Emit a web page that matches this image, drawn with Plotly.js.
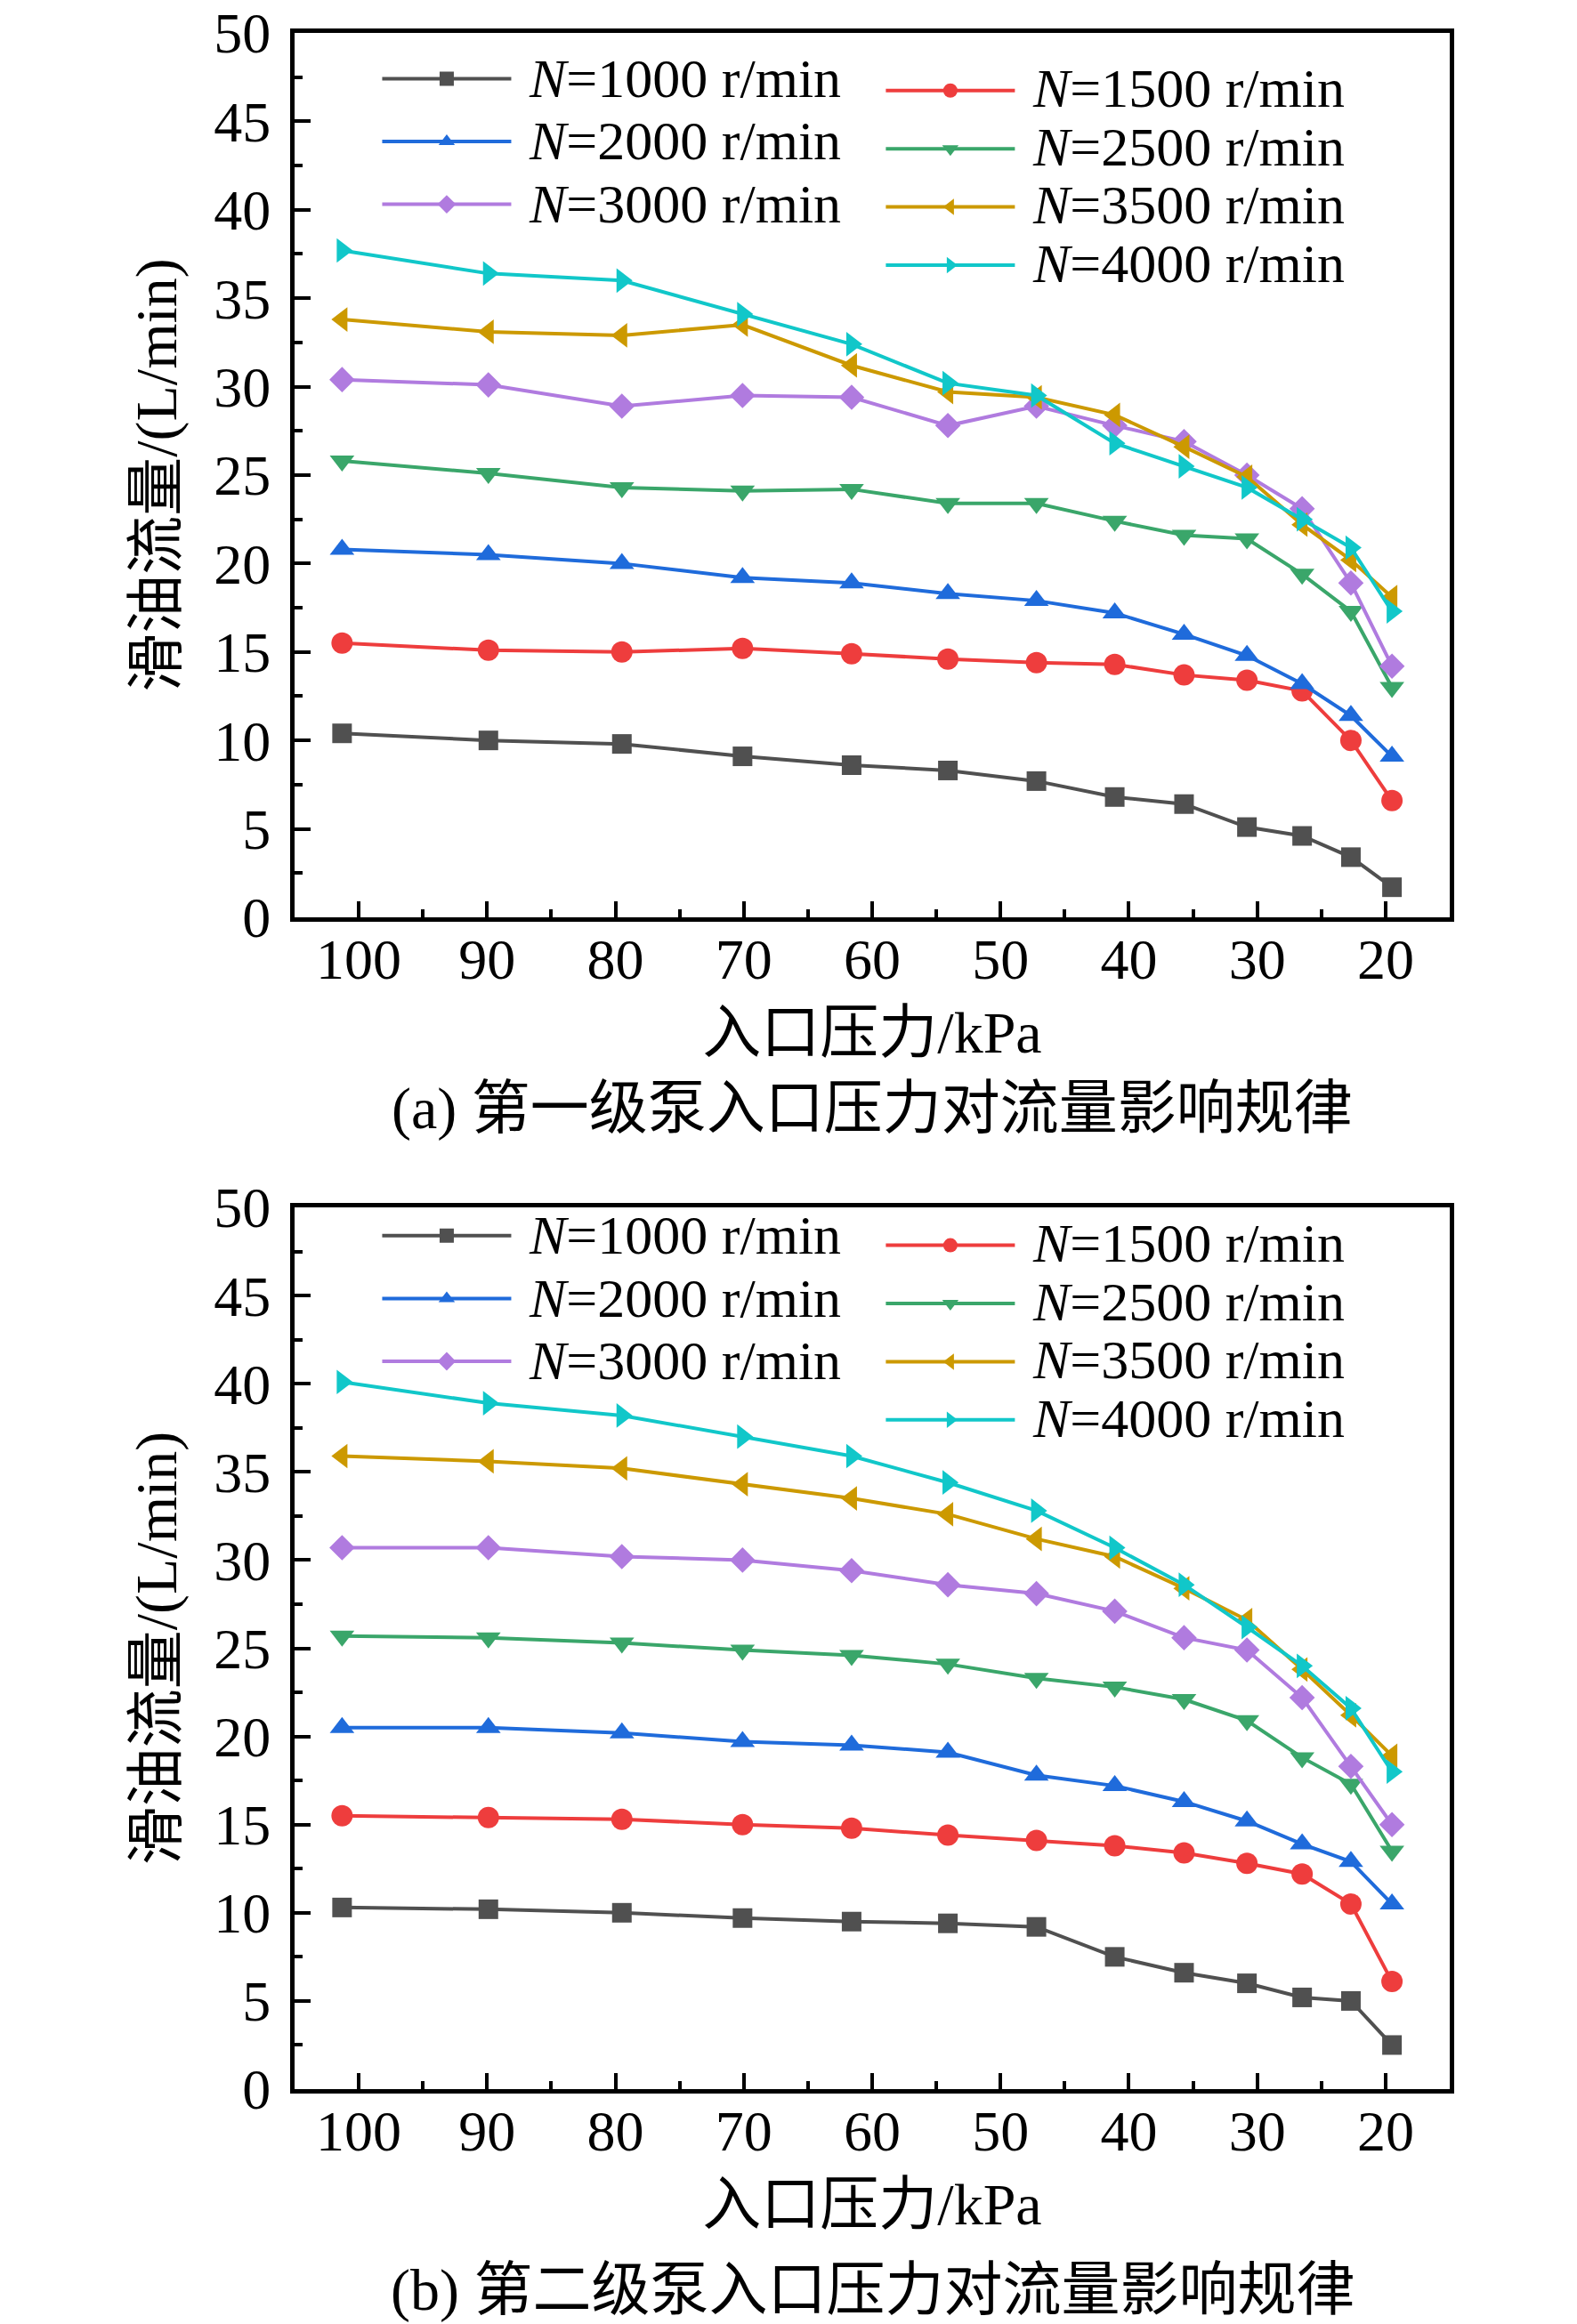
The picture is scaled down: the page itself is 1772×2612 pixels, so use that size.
<!DOCTYPE html>
<html>
<head>
<meta charset="utf-8">
<script src="https://cdn.plot.ly/plotly-3.0.1.min.js"></script>
<style>
  html, body { margin: 0; padding: 0; background: #ffffff; }
  #chart { width: 1772px; height: 2612px; }
</style>
</head>
<body>
<div id="chart"></div>
<script>
// inlet pressure (kPa), same points for both pump stages
const pressure = [101.3, 89.9, 79.5, 70.1, 61.6, 54.1, 47.2, 41.1, 35.7, 30.8, 26.5, 22.7, 19.5];

// speed labels
const speeds = ["1000", "1500", "2000", "2500", "3000", "3500", "4000"];

// (a) first stage pump, oil flow L/min
const stage1N1000 = [10.4, 10.0, 9.8, 9.1, 8.6, 8.3, 7.7, 6.8, 6.4, 5.1, 4.6, 3.4, 1.7];
const stage1N1500 = [15.5, 15.1, 15.0, 15.2, 14.9, 14.6, 14.4, 14.3, 13.7, 13.4, 12.8, 10.0, 6.6];
const stage1N2000 = [20.8, 20.5, 20.0, 19.2, 18.9, 18.3, 17.9, 17.2, 16.0, 14.8, 13.2, 11.4, 9.1];
const stage1N2500 = [25.8, 25.1, 24.3, 24.1, 24.2, 23.4, 23.4, 22.4, 21.6, 21.4, 19.4, 17.3, 13.0];
const stage1N3000 = [30.4, 30.1, 28.9, 29.5, 29.4, 27.8, 28.9, 27.8, 26.9, 25.0, 23.1, 18.9, 14.2];
const stage1N3500 = [33.8, 33.1, 32.9, 33.5, 31.2, 29.7, 29.4, 28.4, 26.6, 24.9, 22.2, 20.2, 18.1];
const stage1N4000 = [37.7, 36.4, 36.0, 34.1, 32.4, 30.2, 29.5, 26.8, 25.5, 24.3, 22.5, 20.9, 17.3];

// (b) second stage pump, oil flow L/min
const stage2N1000 = [10.3, 10.2, 10.0, 9.7, 9.5, 9.4, 9.2, 7.5, 6.6, 6.0, 5.2, 5.0, 2.5];
const stage2N1500 = [15.5, 15.4, 15.3, 15.0, 14.8, 14.4, 14.1, 13.8, 13.4, 12.8, 12.2, 10.5, 6.1];
const stage2N2000 = [20.5, 20.5, 20.2, 19.7, 19.5, 19.1, 17.8, 17.2, 16.3, 15.2, 13.9, 12.9, 10.5];
const stage2N2500 = [25.7, 25.6, 25.3, 24.9, 24.6, 24.1, 23.3, 22.8, 22.1, 20.9, 18.8, 17.3, 13.5];
const stage2N3000 = [30.7, 30.7, 30.2, 30.0, 29.4, 28.6, 28.1, 27.1, 25.6, 24.9, 22.2, 18.3, 15.0];
const stage2N3500 = [35.9, 35.6, 35.2, 34.3, 33.5, 32.6, 31.2, 30.2, 28.4, 26.6, 23.8, 21.2, 18.9];
const stage2N4000 = [40.1, 38.9, 38.2, 37.0, 35.9, 34.4, 32.8, 30.7, 28.6, 26.2, 24.0, 21.6, 18.0];

const stage1 = [stage1N1000, stage1N1500, stage1N2000, stage1N2500, stage1N3000, stage1N3500, stage1N4000];
const stage2 = [stage2N1000, stage2N1500, stage2N2000, stage2N2500, stage2N3000, stage2N3500, stage2N4000];

// look of each speed series
const colors = ["#505050", "#EE3D3D", "#1F6BDB", "#3AA66A", "#B07BDF", "#CC9900", "#11C7C9"];
const symbols = ["square", "circle", "triangle-up", "triangle-down", "diamond", "triangle-left", "triangle-right"];
const sizes = [22, 24, 24, 24, 22, 24, 24];
// which legend column each speed goes in (0 = left, 1 = right)
const legendColumn = [0, 1, 0, 1, 0, 1, 1];

const serif = "Liberation Serif, Times New Roman, Noto Sans CJK SC, serif";

function makeTraces(series, xa, ya, legendLeft, legendRight) {
  const traces = [];
  for (let i = 0; i < series.length; i++) {
    traces.push({
      x: pressure,
      y: series[i],
      xaxis: xa,
      yaxis: ya,
      type: "scatter",
      mode: "lines+markers",
      legend: legendColumn[i] == 0 ? legendLeft : legendRight,
      // leading nbsp gives the gap between line sample and text
      name: `<span style="font-size:62px">\u00a0<i>N</i>=${speeds[i]} r/min</span>`,
      line: { color: colors[i], width: 4 },
      marker: { color: colors[i], symbol: symbols[i], size: sizes[i] }
    });
  }
  return traces;
}

function xAxis(anchor) {
  return {
    anchor: anchor,
    range: [105, 15],
    tick0: 0,
    dtick: 10,
    ticks: "inside",
    ticklen: 18,
    tickwidth: 4,
    tickcolor: "#000",
    minor: { ticks: "inside", ticklen: 9, tickwidth: 4, dtick: 5, tickcolor: "#000" },
    showline: true,
    linewidth: 5,
    linecolor: "#000",
    mirror: true,
    showgrid: false,
    zeroline: false,
    ticklabelstandoff: -13,
    tickfont: { family: serif, size: 64, color: "#000" },
    title: {
      text: "入口压力/kPa",
      standoff: 26,
      font: { family: serif, size: 66, color: "#000" }
    }
  };
}

function yAxis(anchor, domain) {
  return {
    anchor: anchor,
    domain: domain,
    range: [0, 50],
    dtick: 5,
    ticks: "inside",
    ticklen: 18,
    tickwidth: 4,
    tickcolor: "#000",
    minor: { ticks: "inside", ticklen: 9, tickwidth: 4, dtick: 2.5, tickcolor: "#000" },
    showline: true,
    linewidth: 5,
    linecolor: "#000",
    mirror: true,
    showgrid: false,
    zeroline: false,
    ticklabelstandoff: 9,
    tickfont: { family: serif, size: 64, color: "#000" },
    title: {
      text: "滑油流量/(L/min)",
      standoff: 22,
      font: { family: serif, size: 66, color: "#000" }
    }
  };
}

function legendBox(x, y, fontSize) {
  return {
    x: x,
    y: y,
    xanchor: "left",
    yanchor: "top",
    bgcolor: "rgba(0,0,0,0)",
    borderwidth: 0,
    itemwidth: 145,
    // font size here only sets the row spacing, text size is in the span
    font: { family: serif, size: fontSize, color: "#000" }
  };
}

const data = makeTraces(stage1, "x", "y", "legend", "legend2")
  .concat(makeTraces(stage2, "x2", "y2", "legend3", "legend4"));

const layout = {
  width: 1772,
  height: 2612,
  paper_bgcolor: "#fff",
  plot_bgcolor: "#fff",
  margin: { l: 331, r: 143, t: 37, b: 264 },
  showlegend: true,
  xaxis: xAxis("y"),
  yaxis: yAxis("x", [0.5699, 1]),
  xaxis2: xAxis("y2"),
  yaxis2: yAxis("x2", [0, 0.4288]),
  legend: legendBox(0.072, 0.9952, 52),
  legend2: legendBox(0.508, 0.9883, 48),
  legend3: legendBox(0.072, 0.4325, 52),
  legend4: legendBox(0.508, 0.4267, 48),
  annotations: [
    {
      text: "(a) 第一级泵入口压力对流量影响规律",
      xref: "paper", yref: "paper",
      x: 0.5, y: 0.4768,
      xanchor: "center", yanchor: "middle",
      showarrow: false,
      font: { family: serif, size: 66, color: "#000" }
    },
    {
      text: "(b) 第二级泵入口压力对流量影响规律",
      xref: "paper", yref: "paper",
      x: 0.5, y: -0.0978,
      xanchor: "center", yanchor: "middle",
      showarrow: false,
      font: { family: serif, size: 66, color: "#000" }
    }
  ]
};

Plotly.newPlot("chart", data, layout, { displayModeBar: false, staticPlot: true });
</script>
</body>
</html>
